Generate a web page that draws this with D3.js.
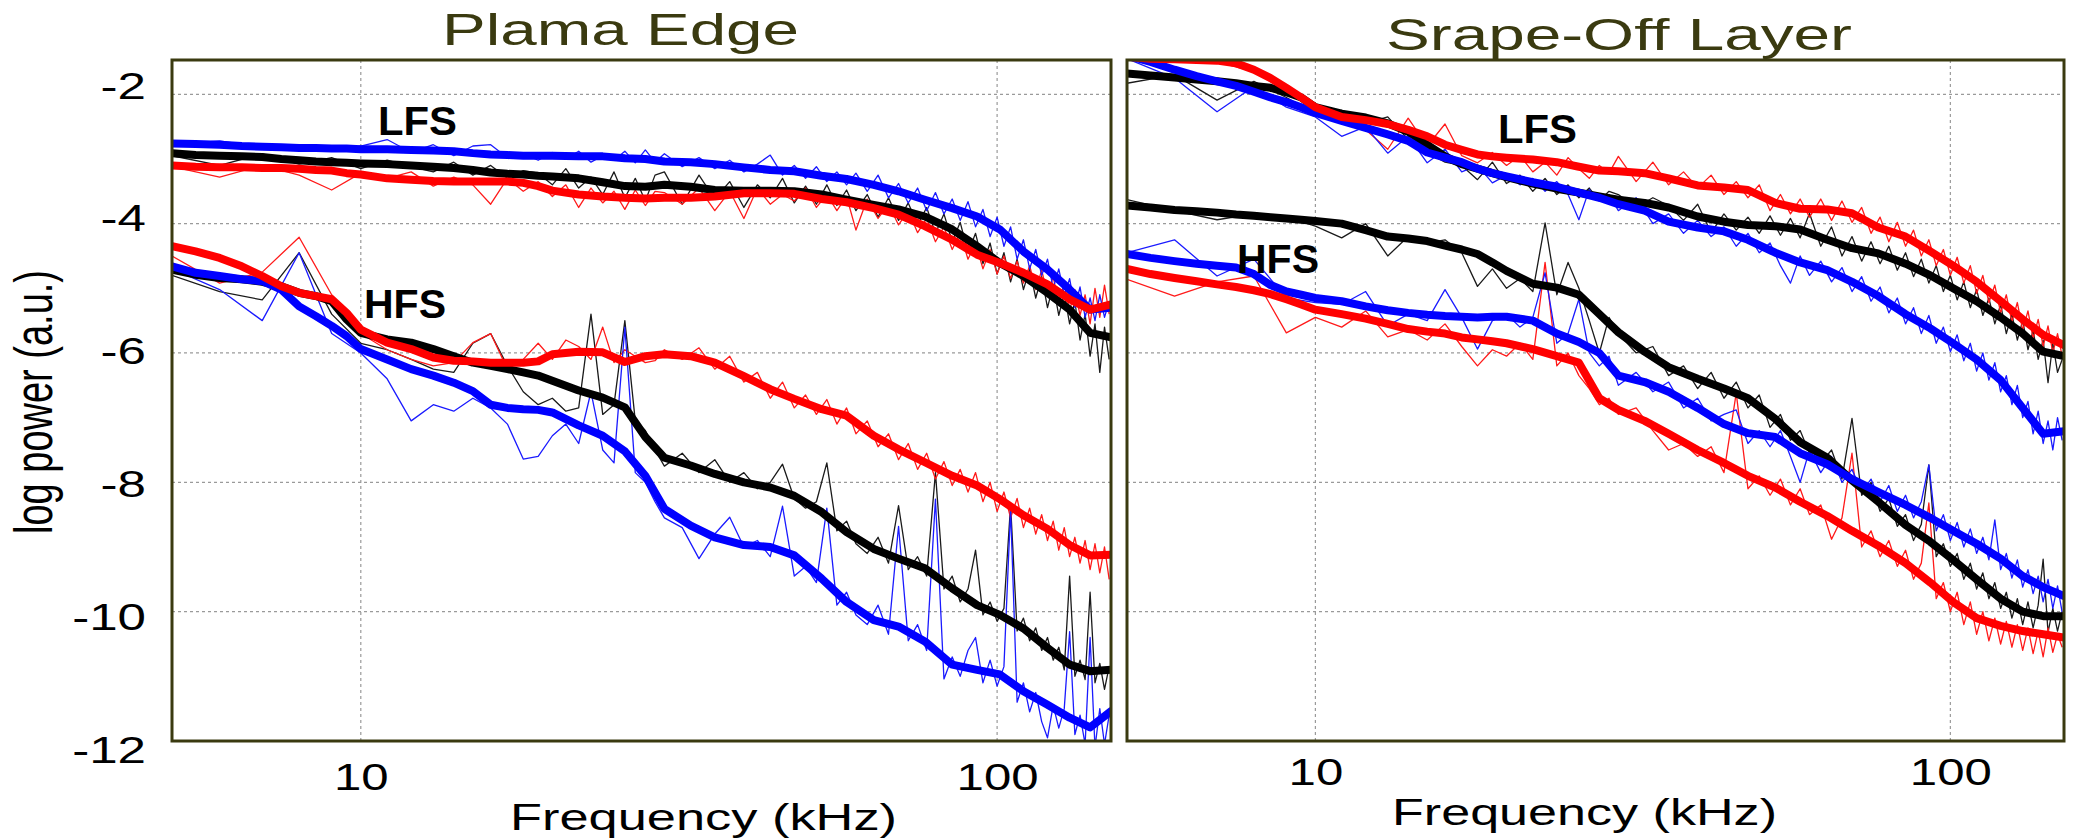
<html>
<head>
<style>
  body { margin: 0; background: #fff; }
  svg text { font-family: "Liberation Sans", Arial, sans-serif; }
  .grid line { stroke: #9a9a9a; stroke-width: 1.2; stroke-dasharray: 3,3; }
  .thin { fill: none; stroke-width: 1.3; stroke-linejoin: round; }
  .thick { fill: none; stroke-width: 8; stroke-linejoin: round; stroke-linecap: round; }
</style>
</head>
<body>
<svg id="chart" width="2076" height="839"></svg>
<script src="https://cdn.jsdelivr.net/npm/d3@7"></script>
<script>
// frequency grids (kHz)
const smoothFreq = [5.05,5.5,6,6.5,7,7.5,8,8.5,9,9.5,10,11,12,13,14,15,16,17,18,19,20,22,24,26,28,30,33,36,40,44,48,53,58,64,70,77,85,93,101,110,120,130,140,151]
const rawFreq = [5.05,6,7,8,9,10,11,12,13,14,15,16,17,18,19,20,21,22,23,24,25,26,27,28,29,30,
  32,34,36,38,40,42,44,46,48,50,52,54,56,58,60,
  62.5,65,67.5,70,72.5,75,77.5,80,82.5,85,87.5,90,92.5,95,97.5,100,102.5,105,107.5,110,112.5,115,117.5,120,122.5,125,127.5,130,132.5,135,137.5,140,142.5,145,147.5,150]

const panelTitles = ["Plama Edge", "Srape-Off Layer"]
const xTicks = [10, 100]
const yTicks = [-2, -4, -6, -8, -10, -12]
const yGrid = [-2, -4, -6, -8, -10]

// Plasma edge - smoothed (thick)
const edgeLfsBlue = [-2.76,-2.77,-2.78,-2.80,-2.81,-2.82,-2.83,-2.83,-2.84,-2.84,-2.85,-2.85,-2.86,-2.87,-2.88,-2.91,-2.93,-2.94,-2.95,-2.95,-2.95,-2.96,-2.96,-2.99,-3.00,-3.04,-3.05,-3.08,-3.13,-3.17,-3.19,-3.26,-3.31,-3.40,-3.50,-3.63,-3.76,-3.89,-4.09,-4.43,-4.71,-5.02,-5.33,-5.30]
const edgeLfsBlack = [-2.91,-2.94,-2.95,-2.96,-2.97,-3.00,-3.02,-3.04,-3.05,-3.06,-3.07,-3.08,-3.10,-3.12,-3.14,-3.17,-3.21,-3.23,-3.24,-3.26,-3.27,-3.30,-3.36,-3.42,-3.43,-3.40,-3.43,-3.48,-3.49,-3.49,-3.50,-3.55,-3.63,-3.71,-3.78,-3.89,-4.09,-4.35,-4.61,-4.81,-5.07,-5.33,-5.69,-5.76]
const edgeLfsRed = [-3.10,-3.12,-3.13,-3.13,-3.14,-3.14,-3.15,-3.17,-3.18,-3.22,-3.24,-3.30,-3.32,-3.34,-3.35,-3.35,-3.35,-3.35,-3.37,-3.42,-3.49,-3.55,-3.58,-3.60,-3.61,-3.60,-3.60,-3.58,-3.53,-3.53,-3.54,-3.62,-3.67,-3.76,-3.86,-4.04,-4.25,-4.48,-4.61,-4.76,-4.94,-5.17,-5.33,-5.25]
const edgeHfsBlue = [-4.66,-4.76,-4.81,-4.86,-4.89,-5.02,-5.28,-5.43,-5.58,-5.74,-5.94,-6.10,-6.25,-6.35,-6.46,-6.59,-6.80,-6.85,-6.87,-6.88,-6.92,-7.12,-7.28,-7.52,-7.90,-8.41,-8.67,-8.85,-8.97,-9.00,-9.13,-9.49,-9.85,-10.13,-10.23,-10.46,-10.82,-10.90,-10.97,-11.23,-11.44,-11.64,-11.79,-11.54]
const edgeHfsBlack = [-4.71,-4.79,-4.84,-4.86,-4.90,-4.97,-5.07,-5.12,-5.20,-5.48,-5.69,-5.79,-5.84,-5.94,-6.05,-6.15,-6.20,-6.25,-6.30,-6.35,-6.43,-6.58,-6.69,-6.84,-7.30,-7.62,-7.74,-7.87,-8.00,-8.08,-8.21,-8.46,-8.77,-9.03,-9.18,-9.33,-9.64,-9.90,-10.05,-10.26,-10.56,-10.82,-10.92,-10.90]
const edgeHfsRed = [-4.35,-4.43,-4.53,-4.66,-4.81,-4.97,-5.07,-5.12,-5.17,-5.38,-5.64,-5.84,-5.94,-6.07,-6.12,-6.13,-6.15,-6.15,-6.15,-6.13,-6.02,-5.98,-5.99,-6.14,-6.05,-6.02,-6.05,-6.15,-6.36,-6.56,-6.71,-6.87,-6.97,-7.28,-7.49,-7.69,-7.90,-8.05,-8.26,-8.51,-8.72,-8.97,-9.13,-9.12]

// Plasma edge - raw spectra (thin)
const edgeLfsBlueRaw = [-2.78,-2.72,-2.82,-2.80,-2.88,-2.80,-2.70,-2.90,-2.78,-2.95,-2.80,-2.78,-2.98,-2.92,-3.02,-2.90,-3.00,-2.88,-3.05,-2.95,-3.02,-2.88,-3.06,-2.86,-3.05,-2.92,
  -3.12,-2.98,-3.15,-3.02,-3.20,-3.08,-2.94,-3.25,-3.10,-3.30,-3.12,-3.35,-3.20,-3.40,-3.22,
  -3.50,-3.25,-3.60,-3.38,-3.68,-3.45,-3.80,-3.52,-3.85,-3.62,-3.95,-3.66,-4.05,-3.78,-4.20,-3.90,-4.35,-4.05,-4.55,-4.25,-4.70,-4.40,-4.80,-4.55,-5.00,-4.70,-5.10,-4.85,-5.30,-4.98,-5.45,-5.15,-5.50,-5.10,-5.45,-5.20]
const edgeLfsBlackRaw = [-2.95,-3.10,-2.92,-3.08,-2.98,-3.15,-3.02,-3.12,-3.20,-3.05,-3.25,-3.10,-3.30,-3.18,-3.22,-3.40,-3.15,-3.45,-3.28,-3.55,-3.20,-3.60,-3.30,-3.65,-3.25,-3.20,
  -3.70,-3.25,-3.62,-3.35,-3.75,-3.40,-3.60,-3.30,-3.68,-3.42,-3.70,-3.40,-3.72,-3.48,-3.80,
  -3.55,-3.90,-3.60,-3.95,-3.68,-4.02,-3.75,-4.15,-3.85,-4.28,-3.98,-4.45,-4.15,-4.62,-4.30,-4.78,-4.45,-4.90,-4.55,-5.02,-4.70,-5.15,-4.82,-5.30,-4.95,-5.42,-5.08,-5.55,-5.20,-5.80,-5.40,-6.05,-5.55,-6.30,-5.60,-6.10]
const edgeLfsRedRaw = [-3.12,-3.28,-3.10,-3.25,-3.48,-3.22,-3.30,-3.20,-3.42,-3.28,-3.40,-3.70,-3.30,-3.50,-3.35,-3.58,-3.40,-3.75,-3.45,-3.68,-3.50,-3.78,-3.48,-3.72,-3.50,-3.52,
  -3.70,-3.45,-3.80,-3.50,-3.92,-3.45,-3.70,-3.55,-3.65,-3.45,-3.75,-3.55,-3.80,-3.58,-4.10,
  -3.62,-3.92,-3.70,-4.02,-3.80,-4.14,-3.92,-4.28,-4.05,-4.40,-4.15,-4.55,-4.30,-4.70,-4.40,-4.78,-4.50,-4.85,-4.58,-4.92,-4.65,-5.02,-4.72,-5.10,-4.82,-5.25,-4.92,-5.35,-5.02,-5.42,-5.10,-5.55,-5.00,-5.45,-4.95,-5.40]
const edgeHfsBlueRaw = [-4.70,-5.02,-5.50,-4.45,-5.70,-6.00,-6.40,-7.05,-6.80,-6.90,-6.70,-6.85,-7.10,-7.64,-7.60,-7.28,-7.10,-7.40,-6.60,-7.50,-7.70,-5.60,-7.85,-8.00,-8.30,-8.55,
  -8.70,-9.18,-8.80,-8.54,-9.00,-8.90,-9.15,-8.37,-9.45,-9.30,-9.55,-8.40,-9.90,-9.70,-10.05,
  -10.20,-9.90,-10.35,-8.68,-10.45,-10.20,-10.60,-8.26,-11.04,-10.70,-11.00,-10.60,-10.40,-11.10,-10.75,-11.15,-10.85,-8.42,-11.40,-11.10,-11.55,-11.25,-11.70,-11.95,-11.45,-11.80,-11.50,-10.31,-11.90,-11.60,-12.05,-10.40,-12.10,-11.50,-12.05,-11.60]
const edgeHfsBlackRaw = [-4.80,-5.05,-5.18,-4.45,-5.40,-5.85,-5.95,-6.10,-6.25,-6.30,-5.85,-5.70,-6.20,-6.60,-6.80,-6.70,-6.90,-6.85,-5.40,-6.95,-6.80,-5.50,-7.05,-7.20,-7.50,-7.75,
  -7.55,-7.85,-7.65,-8.00,-7.85,-8.10,-8.00,-7.72,-8.25,-8.40,-8.30,-7.70,-8.75,-8.60,-8.95,
  -9.10,-8.85,-9.25,-8.36,-9.35,-9.15,-9.45,-7.85,-9.65,-9.45,-9.85,-9.65,-9.05,-10.05,-9.85,-10.15,-9.95,-8.35,-10.30,-10.10,-10.45,-10.25,-10.60,-10.40,-10.75,-10.55,-10.90,-9.45,-11.00,-10.75,-11.05,-9.70,-11.10,-10.80,-11.20,-10.85]
const edgeHfsRedRaw = [-4.50,-4.92,-4.75,-4.21,-5.10,-5.70,-5.95,-6.10,-6.20,-6.15,-5.84,-5.70,-6.25,-6.10,-5.85,-6.10,-5.80,-5.90,-6.10,-5.60,-6.15,-5.95,-6.05,-6.15,-6.12,-5.95,
  -6.10,-5.92,-6.25,-6.05,-6.45,-6.30,-6.70,-6.45,-6.85,-6.65,-6.95,-6.72,-7.10,-6.85,-7.25,
  -7.05,-7.45,-7.25,-7.65,-7.40,-7.80,-7.55,-7.95,-7.68,-8.05,-7.80,-8.15,-7.85,-8.30,-8.00,-8.45,-8.15,-8.55,-8.25,-8.70,-8.40,-8.80,-8.50,-8.90,-8.60,-9.05,-8.70,-9.15,-8.85,-9.25,-8.90,-9.35,-8.95,-9.40,-9.00,-9.50]

// Scrape-off layer - smoothed (thick)
const solLfsBlue = [-1.40,-1.50,-1.62,-1.72,-1.80,-1.87,-1.96,-2.05,-2.12,-2.20,-2.29,-2.41,-2.52,-2.62,-2.72,-2.90,-2.98,-3.05,-3.15,-3.22,-3.27,-3.36,-3.43,-3.52,-3.60,-3.70,-3.80,-3.97,-4.06,-4.12,-4.25,-4.45,-4.60,-4.72,-4.90,-5.12,-5.40,-5.62,-5.85,-6.10,-6.42,-6.85,-7.25,-7.21]
const solLfsBlack = [-1.68,-1.71,-1.74,-1.77,-1.80,-1.83,-1.87,-1.90,-1.97,-2.05,-2.20,-2.30,-2.36,-2.45,-2.58,-2.78,-2.96,-3.08,-3.15,-3.22,-3.28,-3.38,-3.46,-3.52,-3.58,-3.63,-3.68,-3.75,-3.89,-3.97,-4.02,-4.04,-4.09,-4.25,-4.38,-4.46,-4.62,-4.80,-5.00,-5.20,-5.45,-5.70,-5.98,-6.05]
const solLfsRed = [-1.42,-1.45,-1.46,-1.47,-1.48,-1.52,-1.62,-1.75,-1.90,-2.05,-2.20,-2.35,-2.40,-2.46,-2.55,-2.65,-2.78,-2.86,-2.93,-2.96,-2.98,-3.01,-3.05,-3.12,-3.18,-3.19,-3.22,-3.30,-3.41,-3.44,-3.48,-3.68,-3.77,-3.78,-3.84,-4.06,-4.20,-4.43,-4.65,-4.90,-5.20,-5.48,-5.72,-5.88]
const solHfsBlue = [-4.47,-4.53,-4.58,-4.62,-4.65,-4.68,-4.78,-4.95,-5.05,-5.10,-5.15,-5.20,-5.28,-5.34,-5.38,-5.41,-5.43,-5.44,-5.45,-5.44,-5.44,-5.50,-5.70,-5.83,-6.00,-6.35,-6.45,-6.60,-6.85,-7.10,-7.24,-7.30,-7.55,-7.72,-7.95,-8.15,-8.35,-8.55,-8.75,-8.95,-9.18,-9.45,-9.62,-9.76]
const solHfsBlack = [-3.72,-3.75,-3.79,-3.81,-3.83,-3.86,-3.88,-3.90,-3.92,-3.94,-3.96,-4.00,-4.10,-4.20,-4.23,-4.27,-4.34,-4.40,-4.47,-4.60,-4.73,-4.93,-4.99,-5.10,-5.40,-5.68,-5.98,-6.22,-6.40,-6.55,-6.70,-7.02,-7.38,-7.62,-7.97,-8.30,-8.66,-8.92,-9.20,-9.50,-9.80,-10.00,-10.07,-10.07]
const solHfsRed = [-4.70,-4.78,-4.84,-4.89,-4.94,-4.98,-5.03,-5.09,-5.17,-5.25,-5.33,-5.40,-5.47,-5.55,-5.63,-5.67,-5.70,-5.76,-5.79,-5.82,-5.85,-5.94,-6.05,-6.15,-6.70,-6.88,-7.05,-7.25,-7.50,-7.70,-7.90,-8.08,-8.30,-8.52,-8.75,-8.98,-9.25,-9.55,-9.85,-10.10,-10.22,-10.30,-10.35,-10.40]

// Scrape-off layer - raw spectra (thin)
const solLfsBlueRaw = [-1.45,-1.75,-2.27,-1.88,-2.20,-2.35,-2.65,-2.50,-2.91,-2.65,-3.06,-2.85,-3.20,-3.10,-3.37,-3.25,-3.40,-3.30,-3.50,-3.35,-3.55,-3.94,-3.47,-3.65,-3.55,-3.80,
  -3.60,-4.00,-3.85,-4.15,-3.95,-4.20,-4.05,-4.35,-4.15,-4.45,-4.30,-4.65,-4.92,-4.50,-4.80,
  -4.58,-4.90,-4.68,-5.05,-4.82,-5.20,-4.98,-5.38,-5.15,-5.55,-5.30,-5.70,-5.42,-5.85,-5.60,-5.98,-5.72,-6.12,-5.85,-6.28,-6.00,-6.42,-6.15,-6.60,-6.35,-6.80,-6.50,-7.00,-6.75,-7.25,-6.90,-7.40,-7.05,-7.50,-7.00,-7.35]
const solLfsBlackRaw = [-1.83,-1.70,-2.09,-1.80,-2.05,-2.30,-2.25,-2.45,-2.35,-2.70,-2.90,-3.05,-3.10,-3.32,-3.05,-3.38,-3.25,-3.50,-3.30,-3.55,-3.40,-3.60,-3.45,-3.65,-3.50,-3.55,
  -3.75,-3.60,-3.72,-3.95,-3.70,-4.14,-3.85,-4.10,-3.90,-4.15,-3.88,-4.18,-3.92,-4.22,-3.84,
  -4.35,-4.05,-4.50,-4.20,-4.58,-4.28,-4.62,-4.35,-4.72,-4.45,-4.82,-4.55,-4.92,-4.65,-5.05,-4.80,-5.18,-4.90,-5.30,-5.02,-5.42,-5.15,-5.55,-5.25,-5.70,-5.40,-5.80,-5.50,-5.95,-5.65,-6.10,-5.80,-6.46,-5.85,-6.30,-6.10]
const solLfsRedRaw = [-1.42,-1.46,-1.50,-1.65,-1.95,-2.25,-2.40,-2.55,-2.85,-2.37,-2.80,-2.46,-2.95,-3.06,-2.90,-3.10,-2.95,-3.20,-3.05,-3.25,-2.98,-3.15,-3.30,-3.10,-3.22,-2.96,
  -3.35,-3.05,-3.40,-3.20,-3.45,-3.25,-3.55,-3.35,-3.60,-3.40,-3.80,-3.55,-3.85,-3.62,-3.90,
  -3.62,-3.95,-3.65,-3.98,-3.75,-4.15,-3.90,-4.28,-3.98,-4.35,-4.10,-4.50,-4.25,-4.65,-4.40,-4.80,-4.52,-4.92,-4.65,-5.08,-4.80,-5.22,-4.95,-5.38,-5.10,-5.52,-5.22,-5.65,-5.35,-5.78,-5.48,-5.90,-5.58,-6.00,-5.70,-6.05]
const solHfsBlueRaw = [-4.45,-4.25,-4.81,-4.55,-5.15,-5.22,-5.25,-5.05,-5.58,-5.40,-5.50,-5.02,-5.45,-5.94,-5.50,-5.40,-5.60,-5.45,-4.76,-5.85,-5.70,-5.17,-6.00,-6.20,-6.05,-6.50,
  -6.30,-6.60,-6.45,-6.85,-6.70,-7.05,-6.95,-6.88,-7.40,-7.20,-7.45,-7.20,-7.60,-8.00,-7.50,
  -7.85,-7.60,-8.00,-7.80,-8.15,-7.95,-8.30,-8.05,-8.45,-8.20,-8.55,-8.30,-7.73,-8.75,-8.50,-8.90,-8.62,-9.00,-8.72,-9.10,-8.85,-9.20,-8.58,-9.35,-9.10,-9.48,-9.20,-9.62,-9.35,-9.72,-9.45,-9.85,-9.50,-9.95,-9.60,-10.01]
const solHfsBlackRaw = [-3.63,-3.80,-3.94,-3.85,-3.90,-4.04,-4.22,-4.00,-4.50,-4.20,-4.30,-4.25,-4.45,-4.97,-4.70,-5.00,-4.85,-5.05,-3.99,-5.10,-4.60,-5.00,-5.50,-6.00,-5.45,-5.70,
  -6.00,-5.90,-6.35,-6.20,-6.55,-6.30,-6.70,-6.45,-6.85,-6.65,-7.15,-6.95,-7.35,-7.20,-7.55,
  -7.70,-7.50,-7.95,-7.01,-8.20,-8.00,-8.45,-8.25,-8.68,-8.50,-8.90,-8.65,-7.73,-9.15,-8.95,-9.30,-9.10,-9.50,-9.25,-9.65,-9.40,-9.80,-9.55,-9.95,-9.70,-10.10,-9.80,-10.20,-9.85,-10.25,-9.90,-9.19,-10.32,-9.95,-10.30,-10.00]
const solHfsRedRaw = [-4.86,-5.12,-4.90,-4.81,-5.69,-5.45,-5.60,-5.35,-5.75,-5.64,-5.80,-5.55,-5.90,-6.20,-5.95,-6.05,-5.85,-6.10,-4.60,-6.20,-6.00,-6.35,-6.55,-6.80,-6.70,-6.95,
  -6.85,-7.20,-7.50,-7.40,-7.60,-7.45,-7.85,-6.62,-8.10,-7.90,-8.20,-7.95,-8.35,-8.10,-8.50,
  -8.35,-8.88,-8.55,-7.55,-9.00,-8.75,-9.15,-8.90,-9.30,-9.05,-9.50,-9.25,-8.32,-9.80,-9.55,-10.00,-9.70,-10.20,-9.85,-10.35,-10.00,-10.45,-10.10,-10.50,-10.15,-10.55,-10.20,-10.60,-10.25,-10.65,-10.30,-10.70,-10.25,-10.63,-10.35,-10.55]

const svg = d3.select("#chart")
const olive = "#3a3a10"
const colorOf = { black: "#000000", blue: "#0000ff", red: "#ff0000" }
const thinColor = { black: "#1a1a1a", blue: "#1a1aff", red: "#ff1a1a" }

const plotTop = 60, plotBottom = 741
const y = d3.scaleLinear().domain([-1.47, -12]).range([plotTop, plotBottom])
// tick labels sit on a slightly wider spacing than the grid in the original
const yLabel = d3.scaleLinear().domain([-2, -12]).range([86.5, 751])

const panels = [
  { id: "edge", left: 172, right: 1111, title: panelTitles[0], titleX: 442, titleY: 45, titleW: 357,
    xlabX: 510, xlabY: 830, xlabW: 387, tickPad: 23, lfs: [378, 135], hfs: [364, 318],
    raw: [[edgeLfsBlackRaw, "black"], [edgeHfsBlackRaw, "black"], [edgeLfsRedRaw, "red"], [edgeHfsRedRaw, "red"], [edgeLfsBlueRaw, "blue"], [edgeHfsBlueRaw, "blue"]],
    smooth: [[edgeLfsBlack, "black"], [edgeHfsBlack, "black"], [edgeLfsBlue, "blue"], [edgeHfsBlue, "blue"], [edgeLfsRed, "red"], [edgeHfsRed, "red"]] },
  { id: "sol", left: 1127, right: 2064, title: panelTitles[1], titleX: 1386, titleY: 50, titleW: 466,
    xlabX: 1392, xlabY: 825, xlabW: 385, tickPad: 18, lfs: [1498, 143], hfs: [1237, 273],
    raw: [[solLfsBlackRaw, "black"], [solHfsBlackRaw, "black"], [solLfsRedRaw, "red"], [solHfsRedRaw, "red"], [solLfsBlueRaw, "blue"], [solHfsBlueRaw, "blue"]],
    smooth: [[solLfsBlack, "black"], [solHfsBlack, "black"], [solLfsBlue, "blue"], [solHfsBlue, "blue"], [solLfsRed, "red"], [solHfsRed, "red"]] }
]

panels.forEach(p => {
  let x = d3.scaleLog().domain([5.05, 151]).range([p.left, p.right])

  svg.append("clipPath").attr("id", "clip-" + p.id)
    .append("rect")
    .attr("x", p.left).attr("y", plotTop)
    .attr("width", p.right - p.left).attr("height", plotBottom - plotTop)

  // dotted grid
  let grid = svg.append("g").attr("class", "grid")
  grid.selectAll(".vx").data(xTicks).enter().append("line")
    .attr("x1", d => x(d)).attr("x2", d => x(d))
    .attr("y1", plotTop).attr("y2", plotBottom)
  grid.selectAll(".hy").data(yGrid).enter().append("line")
    .attr("x1", p.left).attr("x2", p.right)
    .attr("y1", d => y(d)).attr("y2", d => y(d))

  let lineGen = freqs => d3.line()
    .x((d, i) => x(freqs[i]))
    .y(d => y(d))

  let body = svg.append("g").attr("clip-path", "url(#clip-" + p.id + ")")

  // raw spectra first, smoothed curves on top
  p.raw.forEach(([vals, c]) => {
    body.append("path").datum(vals)
      .attr("class", "thin")
      .attr("stroke", thinColor[c])
      .attr("d", lineGen(rawFreq))
  })
  p.smooth.forEach(([vals, c]) => {
    body.append("path").datum(vals)
      .attr("class", "thick")
      .attr("stroke", colorOf[c])
      .attr("d", lineGen(smoothFreq))
  })

  // frame
  svg.append("rect")
    .attr("x", p.left).attr("y", plotTop)
    .attr("width", p.right - p.left).attr("height", plotBottom - plotTop)
    .attr("fill", "none").attr("stroke", olive).attr("stroke-width", 3)

  // x axis labels
  let xAxis = svg.append("g")
    .attr("transform", "translate(0," + plotBottom + ")")
    .call(d3.axisBottom(x).tickValues(xTicks).tickSize(0).tickPadding(p.tickPad).tickFormat(d => String(d)))
  xAxis.select(".domain").remove()
  xAxis.selectAll("text")
    .attr("fill", "#000")
    .style("font-size", "37px")
    .attr("transform", "scale(1.33,1)")

  svg.append("text")
    .attr("x", p.xlabX).attr("y", p.xlabY)
    .attr("textLength", p.xlabW).attr("lengthAdjust", "spacingAndGlyphs")
    .style("font-size", "36px")
    .text("Frequency (kHz)")

  svg.append("text")
    .attr("x", p.titleX).attr("y", p.titleY)
    .attr("textLength", p.titleW).attr("lengthAdjust", "spacingAndGlyphs")
    .attr("fill", olive)
    .style("font-size", "45px")
    .text(p.title)

  svg.append("text")
    .attr("x", p.lfs[0]).attr("y", p.lfs[1])
    .attr("textLength", 79).attr("lengthAdjust", "spacingAndGlyphs")
    .style("font-size", "40px").style("font-weight", "bold")
    .text("LFS")
  svg.append("text")
    .attr("x", p.hfs[0]).attr("y", p.hfs[1])
    .attr("textLength", 82).attr("lengthAdjust", "spacingAndGlyphs")
    .style("font-size", "40px").style("font-weight", "bold")
    .text("HFS")
})

// y axis labels, left panel only
let yAxis = svg.append("g")
  .attr("transform", "translate(146,0)")
  .call(d3.axisLeft(yLabel).tickValues(yTicks).tickSize(0).tickPadding(0).tickFormat(d => String(d)))
yAxis.select(".domain").remove()
yAxis.selectAll("text")
  .attr("fill", "#000")
  .style("font-size", "36px")
  .attr("transform", "scale(1.42,1)")

svg.append("text")
  .attr("transform", "translate(33,402) scale(1.4,1) rotate(-90)")
  .attr("text-anchor", "middle")
  .attr("dy", "0.35em")
  .style("font-size", "38px")
  .text("log power (a.u.)")
</script>
</body>
</html>
